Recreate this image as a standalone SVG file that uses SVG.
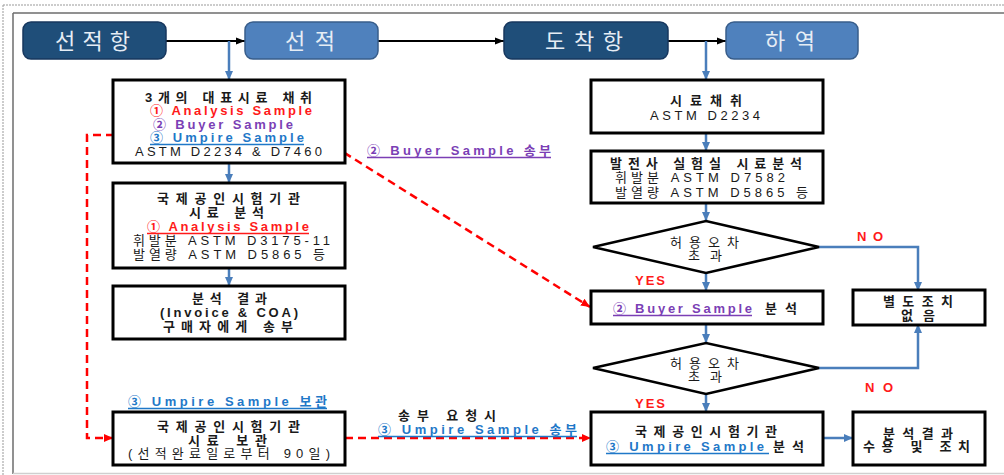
<svg xmlns="http://www.w3.org/2000/svg" width="1004" height="475" viewBox="0 0 1004 475">
<defs>
<style>
.t{font-family:"Liberation Sans","Noto Sans CJK KR",sans-serif;font-size:13px;fill:#1a1a1a}
.b{font-weight:bold}
.red{fill:#FF1A1A}
.pur{fill:#7B3FB5}
.blu{fill:#1F78C8}
.u{stroke-width:1.3}
.ur{stroke:#FF1A1A}
.up{stroke:#7B3FB5}
.ub{stroke:#1F78C8}
.top{font-family:"Liberation Sans","Noto Sans CJK KR",sans-serif;font-size:22px;fill:#E6EDF5}
.box{fill:#fff;stroke:#000;stroke-width:3}
.dia{fill:#fff;stroke:#000;stroke-width:2.5}
.cb{stroke:#4A7EBB;stroke-width:2.5;fill:none;marker-end:url(#ab)}
.cr{stroke:#FF0000;stroke-width:2.5;stroke-dasharray:8 5;fill:none;marker-end:url(#ar)}
.ck{stroke:#000;stroke-width:2;fill:none;marker-end:url(#ak)}
.dk{fill:#1F4E79;stroke:#17375E;stroke-width:1.5}
.md{fill:#4F81BD;stroke:#385D8A;stroke-width:1.5}
</style>
<marker id="ab" markerUnits="userSpaceOnUse" markerWidth="10" markerHeight="10" refX="9" refY="5" orient="auto"><path d="M0,1 L9,5 L0,9 z" fill="#4A7EBB"/></marker>
<marker id="ar" markerUnits="userSpaceOnUse" markerWidth="10" markerHeight="10" refX="9" refY="5" orient="auto"><path d="M0,1 L9,5 L0,9 z" fill="#FF0000"/></marker>
<marker id="ak" markerUnits="userSpaceOnUse" markerWidth="10" markerHeight="10" refX="9" refY="5" orient="auto"><path d="M0,1.5 L9,5 L0,8.5 z" fill="#000"/></marker>
</defs>
<rect width="1004" height="475" fill="#fff"/>
<g id="frame" fill="none">
<line x1="3" y1="5" x2="1004" y2="5" stroke="#999" stroke-width="1" stroke-dasharray="2 1"/>
<line x1="3" y1="5" x2="3" y2="475" stroke="#999" stroke-width="1" stroke-dasharray="2 1"/>
<line x1="13" y1="13" x2="1004" y2="13" stroke="#6d6d6d" stroke-width="1.5"/>
<line x1="13" y1="13" x2="13" y2="474" stroke="#6d6d6d" stroke-width="1.5"/>
<line x1="13" y1="473.5" x2="1004" y2="473.5" stroke="#cfcfcf" stroke-width="1.5"/>
</g>
<g id="connectors">
<path class="ck" d="M166,41 H245"/>
<path class="ck" d="M378,41 H504"/>
<path class="ck" d="M668,41 H726"/>
<path class="cb" d="M229,41 V80"/>
<path class="cb" d="M229,163 V183"/>
<path class="cb" d="M229,268 V286"/>
<path class="cb" d="M706,41 V80"/>
<path class="cb" d="M706,133 V151"/>
<path class="cb" d="M706,203 V221"/>
<path class="cb" d="M706,273 V291"/>
<path class="cb" d="M706,324 V343"/>
<path class="cb" d="M706,394 V412"/>
<path class="cb" d="M819,247 H918 V291"/>
<path class="cb" d="M819,368 H918 V324"/>
<path class="cb" d="M823,438 H853"/>
<path class="cr" d="M140,135 H87 V438 H113"/>
<path class="cr" d="M300,125 L590,307"/>
<path class="cr" d="M345,438 H591"/>
</g>
<g id="n-port1"><rect class="dk" x="23" y="22" width="143" height="37" rx="8"/><text class="top" x="55" y="49" textLength="75" lengthAdjust="spacing">선적항</text></g>
<g id="n-load"><rect class="md" x="245" y="22" width="133" height="37" rx="8"/><text class="top" x="285" y="49" textLength="50" lengthAdjust="spacing">선적</text></g>
<g id="n-port2"><rect class="dk" x="504" y="22" width="164" height="37" rx="8"/><text class="top" x="545" y="49" textLength="78" lengthAdjust="spacing">도착항</text></g>
<g id="n-unload"><rect class="md" x="726" y="22" width="132" height="37" rx="8"/><text class="top" x="765" y="49" textLength="50" lengthAdjust="spacing">하역</text></g>
<g id="n-l1">
<rect class="box" x="113" y="80" width="232" height="83"/>
<text class="t b" x="145" y="101.5" textLength="167" lengthAdjust="spacing">3개의 대표시료 채취</text>
<text class="t b red" x="150" y="115" textLength="162" lengthAdjust="spacing">① Analysis Sample</text>
<text class="t b pur" x="153" y="128.5" textLength="140" lengthAdjust="spacing">② Buyer Sample</text>
<text class="t b blu" x="150" y="142" textLength="154" lengthAdjust="spacing">③ Umpire Sample</text>
<line class="u ub" x1="150" y1="144.5" x2="304" y2="144.5"/>
<text class="t" x="135" y="155.5" textLength="187" lengthAdjust="spacing">ASTM D2234 &amp; D7460</text>
</g>
<g id="n-l2">
<rect class="box" x="113" y="183" width="232" height="85"/>
<text class="t b" x="157" y="203" textLength="143" lengthAdjust="spacing">국제공인시험기관</text>
<text class="t b" x="189" y="217" textLength="75" lengthAdjust="spacing">시료 분석</text>
<text class="t b red" x="147" y="231" textLength="162" lengthAdjust="spacing">① Analysis Sample</text>
<line class="u ur" x1="147" y1="233.5" x2="309" y2="233.5"/>
<text class="t" x="133" y="245" textLength="197" lengthAdjust="spacing">휘발분 ASTM D3175-11</text>
<text class="t" x="133" y="258.5" textLength="192" lengthAdjust="spacing">발열량 ASTM D5865 등</text>
</g>
<g id="n-l3">
<rect class="box" x="113" y="286" width="232" height="53"/>
<text class="t b" x="192" y="303" textLength="75" lengthAdjust="spacing">분석 결과</text>
<text class="t b" x="160" y="317" textLength="138" lengthAdjust="spacing">(Invoice &amp; COA)</text>
<text class="t b" x="163" y="331" textLength="130" lengthAdjust="spacing">구매자에게 송부</text>
</g>
<g id="n-l4">
<text class="t b blu" x="128" y="406" textLength="199" lengthAdjust="spacing">③ Umpire Sample 보관</text>
<line class="u ub" x1="128" y1="408.5" x2="327" y2="408.5"/>
<rect class="box" x="113" y="412" width="232" height="53"/>
<text class="t b" x="157" y="431" textLength="143" lengthAdjust="spacing">국제공인시험기관</text>
<text class="t b" x="188" y="444.5" textLength="79" lengthAdjust="spacing">시료 보관</text>
<text class="t" x="128" y="458" textLength="202" lengthAdjust="spacing">(선적완료일로부터 90일)</text>
</g>
<g id="labels">
<text class="t b pur" x="367" y="155" textLength="184" lengthAdjust="spacing">② Buyer Sample 송부</text>
<line class="u up" x1="367" y1="157.5" x2="551" y2="157.5"/>
<text class="t b" x="398" y="420" textLength="98" lengthAdjust="spacing">송부 요청시</text>
<text class="t b blu" x="378" y="434" textLength="199" lengthAdjust="spacing">③ Umpire Sample 송부</text>
<line class="u ub" x1="378" y1="436.5" x2="577" y2="436.5"/>
<text class="t b red" x="857" y="241" textLength="26" lengthAdjust="spacing">NO</text>
<text class="t b red" x="635" y="285" textLength="30" lengthAdjust="spacing">YES</text>
<text class="t b red" x="865" y="392" textLength="28" lengthAdjust="spacing">NO</text>
<text class="t b red" x="635" y="408" textLength="30" lengthAdjust="spacing">YES</text>
</g>
<g id="n-r1">
<rect class="box" x="591" y="80" width="232" height="53"/>
<text class="t b" x="670" y="105" textLength="72" lengthAdjust="spacing">시료채취</text>
<text class="t" x="650" y="120" textLength="110" lengthAdjust="spacing">ASTM D2234</text>
</g>
<g id="n-r2">
<rect class="box" x="591" y="151" width="232" height="52"/>
<text class="t b" x="610" y="168" textLength="192" lengthAdjust="spacing">발전사 실험실 시료분석</text>
<text class="t" x="615" y="182" textLength="170" lengthAdjust="spacing">휘발분 ASTM D7582</text>
<text class="t" x="615" y="196.5" textLength="193" lengthAdjust="spacing">발열량 ASTM D5865 등</text>
</g>
<g id="n-d1">
<polygon class="dia" points="593,247 706,221 819,247 706,273"/>
<text class="t" x="670" y="246.5" textLength="69" lengthAdjust="spacing">허용오차</text>
<text class="t" x="688" y="260" textLength="34" lengthAdjust="spacing">초과</text>
</g>
<g id="n-r3">
<rect class="box" x="591" y="291" width="232" height="33"/>
<text class="t b pur" x="613" y="313" textLength="139" lengthAdjust="spacing">② Buyer Sample</text>
<line class="u up" x1="613" y1="315.5" x2="752" y2="315.5"/>
<text class="t b" x="765" y="313" textLength="32" lengthAdjust="spacing">분석</text>
</g>
<g id="n-none">
<rect class="box" x="853" y="290" width="132" height="35"/>
<text class="t b" x="883" y="306" textLength="70" lengthAdjust="spacing">별도조치</text>
<text class="t b" x="901" y="319.5" textLength="34" lengthAdjust="spacing">없음</text>
</g>
<g id="n-d2">
<polygon class="dia" points="593,368 706,343 819,368 706,394"/>
<text class="t" x="670" y="367.5" textLength="69" lengthAdjust="spacing">허용오차</text>
<text class="t" x="688" y="381" textLength="34" lengthAdjust="spacing">초과</text>
</g>
<g id="n-r4">
<rect class="box" x="591" y="412" width="232" height="53"/>
<text class="t b" x="635" y="436" textLength="142" lengthAdjust="spacing">국제공인시험기관</text>
<text class="t b blu" x="606" y="451" textLength="158" lengthAdjust="spacing">③ Umpire Sample</text>
<line class="u ub" x1="606" y1="453.5" x2="769" y2="453.5"/>
<text class="t b" x="773" y="451" textLength="31" lengthAdjust="spacing">분석</text>
</g>
<g id="n-r5">
<rect class="box" x="853" y="412" width="132" height="53"/>
<text class="t b" x="883" y="437.5" textLength="70" lengthAdjust="spacing">분석결과</text>
<text class="t b" x="863" y="451" textLength="107" lengthAdjust="spacing">수용 및 조치</text>
</g>
</svg>
